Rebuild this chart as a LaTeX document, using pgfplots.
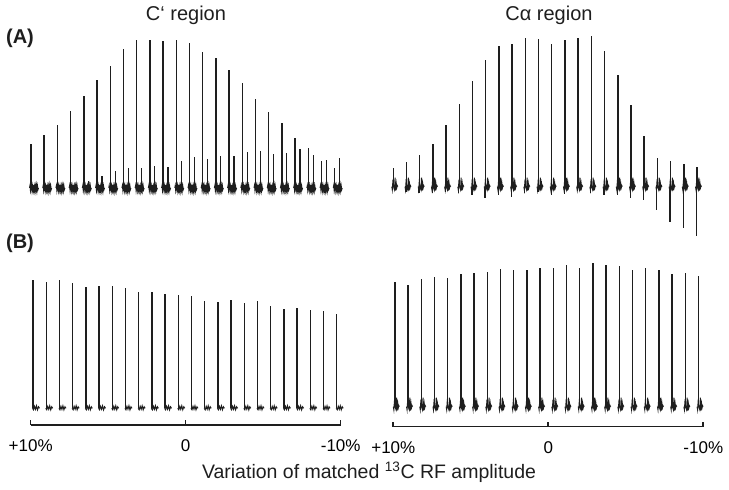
\documentclass[border=0pt]{standalone}
\usepackage{fontspec}
\setmainfont{Liberation Sans}
\usepackage{pgfplots}
\usepackage{pgfplotstable}
\pgfplotsset{compat=1.18}

\definecolor{ink}{RGB}{30,30,30}

% baseline noise of each trace, drawn as a plot mark
\pgfdeclareplotmark{fuzzA}{%
  \pgfpathmoveto{\pgfpoint{-1.5pt}{0pt}}%
  \pgfpathlineto{\pgfpoint{-1pt}{2.5pt}}\pgfpathlineto{\pgfpoint{-0.5pt}{-3pt}}%
  \pgfpathlineto{\pgfpoint{0.5pt}{2.5pt}}\pgfpathlineto{\pgfpoint{1pt}{-2.5pt}}%
  \pgfpathlineto{\pgfpoint{1.5pt}{2pt}}\pgfpathlineto{\pgfpoint{2pt}{-2pt}}%
  \pgfpathlineto{\pgfpoint{2.5pt}{3pt}}\pgfpathlineto{\pgfpoint{3pt}{-2.5pt}}%
  \pgfpathlineto{\pgfpoint{3.5pt}{1.5pt}}\pgfpathlineto{\pgfpoint{4pt}{-3pt}}%
  \pgfpathlineto{\pgfpoint{4.5pt}{2pt}}\pgfpathlineto{\pgfpoint{5pt}{-2pt}}%
  \pgfpathlineto{\pgfpoint{5.5pt}{2.5pt}}\pgfpathlineto{\pgfpoint{6pt}{-2.5pt}}%
  \pgfpathlineto{\pgfpoint{6.5pt}{2pt}}\pgfpathlineto{\pgfpoint{7pt}{-1.5pt}}%
  \pgfpathlineto{\pgfpoint{7.5pt}{0pt}}%
  \pgfusepathqstroke}
\pgfdeclareplotmark{fuzzB}{%
  \pgfpathmoveto{\pgfpoint{-0.5pt}{0pt}}%
  \pgfpathlineto{\pgfpoint{0.5pt}{-1.5pt}}\pgfpathlineto{\pgfpoint{1.5pt}{2pt}}%
  \pgfpathlineto{\pgfpoint{2.5pt}{-1pt}}\pgfpathlineto{\pgfpoint{3.5pt}{2.5pt}}%
  \pgfpathlineto{\pgfpoint{4.5pt}{-1.5pt}}\pgfpathlineto{\pgfpoint{5.5pt}{1.5pt}}%
  \pgfpathlineto{\pgfpoint{6.5pt}{0pt}}%
  \pgfusepathqstroke}
\pgfdeclareplotmark{fuzzC}{%
  \pgfpathmoveto{\pgfpoint{-1.5pt}{0pt}}%
  \pgfpathlineto{\pgfpoint{-1pt}{-3pt}}\pgfpathlineto{\pgfpoint{-0.5pt}{4pt}}%
  \pgfpathlineto{\pgfpoint{0.5pt}{-1pt}}\pgfpathlineto{\pgfpoint{1.2pt}{-3pt}}%
  \pgfpathlineto{\pgfpoint{1.8pt}{9pt}}\pgfpathlineto{\pgfpoint{2.3pt}{-4pt}}%
  \pgfpathlineto{\pgfpoint{3pt}{3pt}}\pgfpathlineto{\pgfpoint{3.5pt}{-1pt}}%
  \pgfpathlineto{\pgfpoint{4pt}{1pt}}\pgfpathlineto{\pgfpoint{4.5pt}{0pt}}%
  \pgfusepathqstroke}

% peak heights (1 unit = 1 px of the figure), x in % RF mismatch
\pgfplotstableread{
x       tlmain tlsec trmain trneg blmain brmain
9.850   44     4     18.4   -3.3  128.3  125
8.998   53     4     24.4   -5    126    122
8.146   63     4     32     -6    128    127.4
7.294   77.3   4     42.7   -6.6  125.6  129.7
6.442   92     7     61.4   -5    121.6  128.7
5.590   108.3  12    83     -6.6  122    132.4
4.738   122    17    105.7  -8.3  122.3  134
3.886   138.7  20    126.4  -11.6 120    134.7
3.034   148    20.3  140.4  -8.3  116.3  137.4
2.182   148    22.3  142.7  -10.6 116.6  137
1.330   147.3  21.3  148.7  -6    114    136.4
0.478   147.7  27    148    -5    113    139
-0.374  145    30.7  142.4  -8.3  112.3  138.7
-1.226  136    28.7  146.7  -7.3  107.3  141.7
-2.078  130.3  32.3  149    -4.3  106.6  138.7
-2.930  118    32.3  150.4  -6    108.3  143.4
-3.782  105    36.3  136    -8.3  105.3  141.7
-4.634  89     37.3  112    -8.3  107.3  140.4
-5.486  76     34    81.4   -11.6 102.6  137
-6.338  65     34.7  50.7   -13.3 99     138.4
-7.190  50.3   39    28.4   -23.3 100    137
-8.042  40     33    25.4   -35   98     132.7
-8.894  27.3   28    22.7   -41.6 97     133.4
-9.746  19.7   30.3  20     -49.3 94     131
}\peaks

\pgfplotsset{
  spec/.style={
    scale only axis, width=310pt, x dir=reverse,
    xmin=-10, xmax=10, clip=false, anchor=south west,
  },
  hidden/.style={spec, hide axis},
  ruler/.style={spec,
    axis x line=bottom, axis y line=none,
    axis line style={-, line width=1.6pt, ink},
    xtick={10,0,-10}, xticklabels={+10\%, 0, -10\%},
    tick align=inside, major tick length=5pt,
    major tick style={line width=1.6pt, ink},
    xticklabel style={font=\fontsize{17}{20}\selectfont, yshift=-11pt},
  },
  peak/.style={ycomb, ink, line width=1.45pt, mark=none},
}

\begin{document}
\begin{tikzpicture}[x=1pt, y=1pt]
\useasboundingbox (0,0) rectangle (729,490);

% (A) C' region
\begin{axis}[hidden, at={(30.7pt,292pt)}, height=160pt, ymin=-10, ymax=150]
  \addplot[only marks, mark=fuzzA, mark options={ink, line width=1pt}] table[x expr=\thisrow{x}+0.13, y expr=0] {\peaks};
  \addplot[peak] table[x expr=\thisrow{x}+0.13, y=tlmain] {\peaks};
  \addplot[peak, line width=1.2pt] table[x expr=\thisrow{x}-0.19, y=tlsec] {\peaks};
\end{axis}

% (A) C-alpha region
\begin{axis}[hidden, at={(393.3pt,248.3pt)}, height=210pt, ymin=-55, ymax=155]
  \addplot[only marks, mark=fuzzC, mark options={ink, line width=1pt}] table[x expr=\thisrow{x}+0.15, y expr=0] {\peaks};
  \addplot[peak] table[x expr=\thisrow{x}+0.15, y=trmain] {\peaks};
  \addplot[peak, line width=1.3pt] table[x expr=\thisrow{x}+0.19, y=trneg] {\peaks};
\end{axis}

% (B) C' region
\begin{axis}[ruler, at={(30.7pt,65pt)}, height=151.7pt, ymin=-16.7, ymax=135]
  \addplot[only marks, mark=fuzzB, mark options={ink, line width=1pt}] table[x=x, y expr=0] {\peaks};
  \addplot[peak] table[x=x, y=blmain] {\peaks};
\end{axis}

% (B) C-alpha region
\begin{axis}[ruler, at={(393.3pt,63.3pt)}, height=160pt, ymin=-20, ymax=140]
  \addplot[only marks, mark=fuzzC, mark options={ink, line width=1pt}] table[x expr=\thisrow{x}+0.05, y expr=0] {\peaks};
  \addplot[peak] table[x expr=\thisrow{x}+0.05, y=brmain] {\peaks};
\end{axis}

\node[font=\fontsize{20}{24}\selectfont, ink] at (186,474.5) {C‘ region};
\node[font=\fontsize{20}{24}\selectfont, ink] at (549,474.5) {Cα region};
\node[font=\fontsize{20}{24}\selectfont\bfseries, ink] at (20,452) {(A)};
\node[font=\fontsize{20}{24}\selectfont\bfseries, ink] at (20,247) {(B)};
\node[font=\fontsize{19.5}{23}\selectfont, ink, anchor=base] at (369,11) {Variation of matched \textsuperscript{13}C RF amplitude};
\end{tikzpicture}
\end{document}
